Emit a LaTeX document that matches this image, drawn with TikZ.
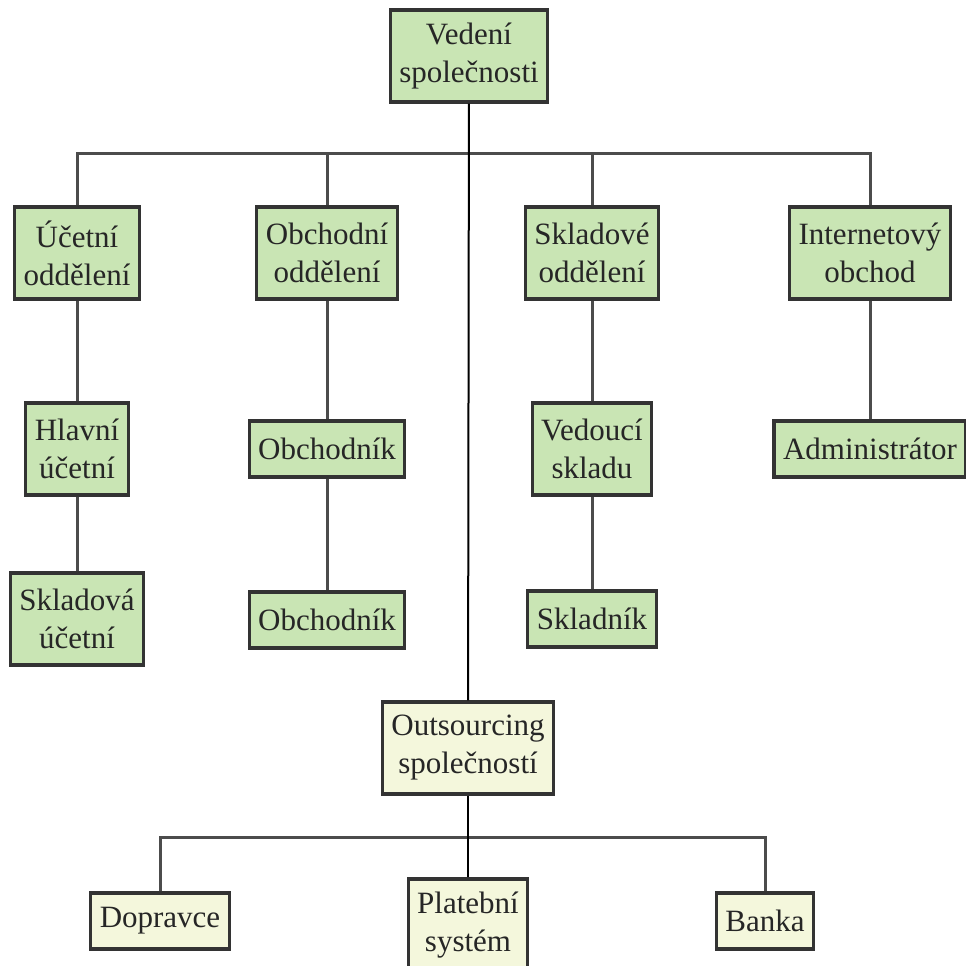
\documentclass[tikz,border=0pt]{standalone}
\usepackage{fontspec}
\setmainfont{Liberation Serif}
\usepackage{xcolor}
\definecolor{colUnit}{HTML}{C9E5B4}
\definecolor{colOut}{HTML}{F4F7DC}
\colorlet{colEdge}{black!80}
\colorlet{colLine}{black!70}
\usepackage{tikz}
\usetikzlibrary{positioning, calc}

\begin{document}
\begin{tikzpicture}[x=0.5pt, y=-0.5pt,
		unit/.style={draw=colEdge, line width=1.6pt, fill=colUnit, align=center,
			inner xsep=4.5pt, inner ysep=2pt, text=black!85,
			font=\rmfamily\fontsize{15.5}{19}\selectfont},
		outer/.style={unit, fill=colOut},
		tall/.style={minimum height=46pt},
		flat/.style={minimum height=28pt},
		link/.style={draw=colLine, line width=1.5pt},
		trunk/.style={draw=black, line width=1pt}]
				\useasboundingbox (0,0) rectangle (966,966);
				% Top of the company
				\node[unit, tall] (vedeni) at (469,56) {Vedení\\společnosti};
				% Departments
				\node[unit, tall] (ucetni) at (77,253) {Účetní\\oddělení};
				\node[unit, tall] (obchodni) at (327,253) {Obchodní\\oddělení};
				\node[unit, tall] (skladove) at (592,253) {Skladové\\oddělení};
				\node[unit, tall] (internet) at (870,253) {Internetový\\obchod};
				% Staff
				\node[unit, tall] (hlavni) at (77,449) {Hlavní\\účetní};
				\node[unit, tall] (skladova) at (77,619) {Skladová\\účetní};
				\node[unit, flat] (obchodnikA) at (327,449) {Obchodník};
				\node[unit, flat] (obchodnikB) at (327,620) {Obchodník};
				\node[unit, tall] (vedouci) at (592,449) {Vedoucí\\skladu};
				\node[unit, flat] (skladnik) at (592,619) {Skladník};
				\node[unit, flat] (admin) at (870,449) {Administrátor};
				% Outsourcing
				\node[outer, tall] (outsourcing) at (468,748) {Outsourcing\\společností};
				\node[outer, flat] (dopravce) at (160,921) {Dopravce};
				\node[outer, tall] (platebni) at (468,925) {Platební\\systém};
				\node[outer, flat] (banka) at (765,921) {Banka};
				% Connectors
				\coordinate (bus) at (468,153);
				\coordinate (busOut) at (468,837);
				\draw[link] (ucetni.north) |- (bus) -| (internet.north);
				\draw[link] (obchodni.north) -- (obchodni.north |- bus);
				\draw[link] (skladove.north) -- (skladove.north |- bus);
				\draw[link] (ucetni) -- (hlavni);
				\draw[link] (hlavni) -- (skladova);
				\draw[link] (obchodni) -- (obchodnikA);
				\draw[link] (obchodnikA) -- (obchodnikB);
				\draw[link] (skladove) -- (vedouci);
				\draw[link] (vedouci) -- (skladnik);
				\draw[link] (internet) -- (admin);
				\draw[link] (dopravce.north) |- (busOut) -| (banka.north);
				\draw[trunk] (vedeni) -- (outsourcing);
				\draw[trunk] (outsourcing) -- (platebni);
			\end{tikzpicture}
\end{document}
